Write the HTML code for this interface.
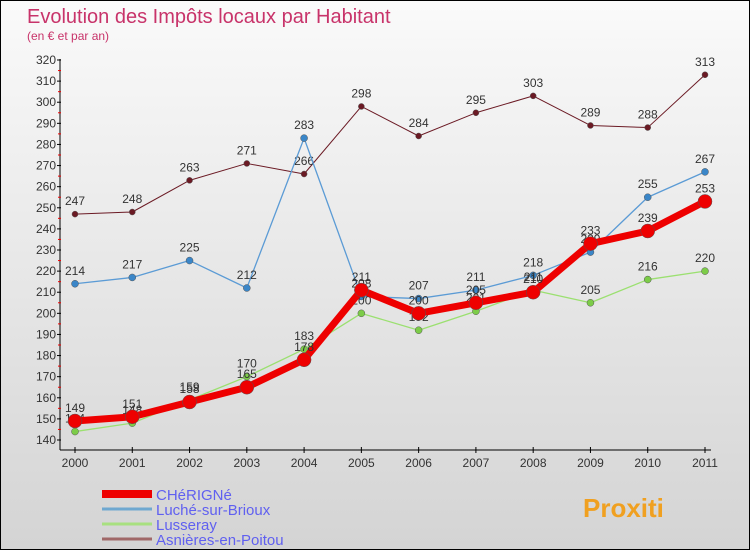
<!DOCTYPE html>
<html><head><meta charset="utf-8"><style>
body{margin:0;width:750px;height:550px;overflow:hidden;font-family:"Liberation Sans",sans-serif}
#c{position:absolute;left:0;top:0;width:748px;height:548px;border:1px solid #000;background:linear-gradient(#fafafa,#d4d4d4)}
</style></head><body>
<div id="c">
<svg id="s" width="748" height="548">
<text x="26" y="22" font-size="20" fill="#c8336a">Evolution des Impôts locaux par Habitant</text>
<text x="26" y="39" font-size="12" fill="#c8336a">(en € et par an)</text>
</svg></div>
<script>
const years=["2000","2001","2002","2003","2004","2005","2006","2007","2008","2009","2010","2011"];
const yTicks=[140,150,160,170,180,190,200,210,220,230,240,250,260,270,280,290,300,310,320];
const cherigne=[149,151,158,165,178,211,200,205,210,233,239,253];
const luche=[214,217,225,212,283,208,207,211,218,229,255,267];
const lusseray=[144,148,159,170,183,200,192,201,211,205,216,220];
const asnieres=[247,248,263,271,266,298,284,295,303,289,288,313];
const names=["CHéRIGNé","Luché-sur-Brioux","Lusseray","Asnières-en-Poitou"];
const svg=document.getElementById('s');const NS="http://www.w3.org/2000/svg";
const X=i=>74+i*(630/11);const Y=v=>439-(v-140)*(380/180);
function mk(t,a,p){const e=document.createElementNS(NS,t);for(const k in a)e.setAttribute(k,a[k]);(p||svg).appendChild(e);return e;}
let ax=mk('line',{x1:59,y1:58,x2:59,y2:449,stroke:'#000'});

let bx=mk('line',{x1:59,y1:449,x2:710,y2:449,stroke:'#000'});

yTicks.forEach(v=>{mk('line',{x1:56,x2:60,y1:Y(v),y2:Y(v),stroke:'#000'});
 if(v<320)mk('line',{x1:57,x2:60,y1:Y(v+5),y2:Y(v+5),stroke:'#e00'});
 const t=mk('text',{x:55,y:Y(v)+4,'font-size':12,'text-anchor':'end',fill:'#333'});t.textContent=v;
 });
years.forEach((y,i)=>{mk('line',{x1:X(i),x2:X(i),y1:446,y2:452,stroke:'#000'});
 const t=mk('text',{x:X(i),y:466,'font-size':12,'text-anchor':'middle',fill:'#333'});t.textContent=y;
 });
const series=[[asnieres,'#6b1a24','#6b1a24',1,3,'asnieres'],[luche,'#5b9bd5','#3a86c8',1.3,3.5,'luche'],[lusseray,'#9be070','#7ccc48',1.3,3.5,'lusseray'],[cherigne,'#ee0000','#ee0000',7,7,'cherigne']];
series.forEach(([d,c,f,w,r,n])=>{const g=mk('g',{});
 
 mk('polyline',{points:d.map((v,i)=>X(i)+','+Y(v)).join(' '),fill:'none',stroke:c,'stroke-width':w,'stroke-linejoin':'round'},g);
 d.forEach((v,i)=>{const p=mk('circle',{cx:X(i),cy:Y(v),r:r,fill:f,stroke:'#555','stroke-width':0.5},g);
  
  const t=mk('text',{x:X(i),y:Y(v)-9,'font-size':12,'text-anchor':'middle',fill:'#333'},g);t.textContent=v;
  });});
const lc=['#ee0000','#6fa8d0','#a8e080','#a06868'],lw=[8,3,3,3];
names.forEach((n,i)=>{const y=493+i*15;const g=mk('g',{});
 
 mk('line',{x1:101,x2:151,y1:y,y2:y,stroke:lc[i],'stroke-width':lw[i]},g);
 const t=mk('text',{x:155,y:y+6,'font-size':15,fill:'#6060f0'},g);t.textContent=n;});
const lg=mk('text',{x:582,y:516,'font-size':26,'font-weight':'bold',fill:'#f0a020'});lg.textContent='Proxiti';

</script></body></html>
